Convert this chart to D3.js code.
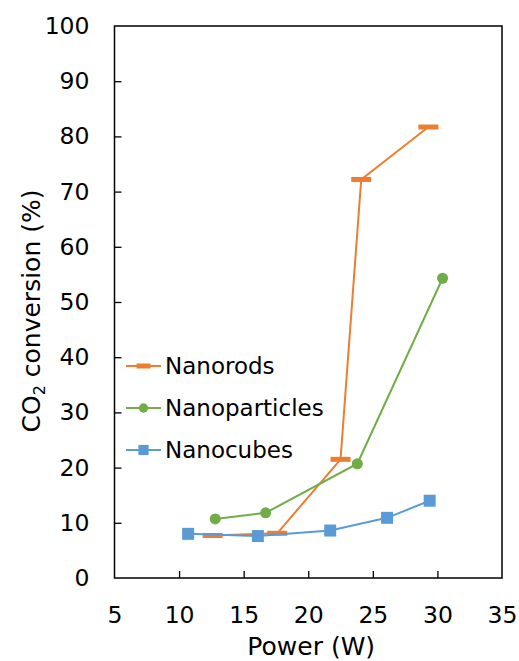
<!DOCTYPE html>
<html lang="en">
<head>
<meta charset="UTF-8">
<title>CO2 conversion vs power</title>
<script src="https://d3js.org/d3.v7.min.js"></script>
<style>
  body { margin: 0; background: #fff; }
  text { font-family: "DejaVu Sans", Verdana, sans-serif; fill: #000; }
</style>
</head>
<body>
<div id="chart"></div>
<script>
// data
const seriesNames = ["Nanorods", "Nanoparticles", "Nanocubes"];
const rodsPower = [12.6, 17.6, 22.5, 24.1, 29.3];
const rodsConv = [7.7, 8.1, 21.5, 72.2, 81.7];
const particlesPower = [12.8, 16.7, 23.8, 30.4];
const particlesConv = [10.7, 11.8, 20.7, 54.3];
const cubesPower = [10.7, 16.1, 21.7, 26.1, 29.4];
const cubesConv = [8.0, 7.6, 8.6, 10.9, 14.0];
const xTicks = [5, 10, 15, 20, 25, 30, 35];
const yTicks = [0, 10, 20, 30, 40, 50, 60, 70, 80, 90, 100];

const colors = { Nanorods: "#ED7D31", Nanoparticles: "#70AD47", Nanocubes: "#5B9BD5" };

const series = [
  { name: "Nanorods", marker: "dash", pts: rodsPower.map((p, i) => ({ x: p, y: rodsConv[i] })) },
  { name: "Nanoparticles", marker: "circle", pts: particlesPower.map((p, i) => ({ x: p, y: particlesConv[i] })) },
  { name: "Nanocubes", marker: "square", pts: cubesPower.map((p, i) => ({ x: p, y: cubesConv[i] })) }
];

const W = 519, H = 661;
const margin = { top: 26, right: 17, bottom: 83, left: 114.5 };
const width = W - margin.left - margin.right;
const height = H - margin.top - margin.bottom;

const svg = d3.select("#chart").append("svg")
  .attr("width", W).attr("height", H);
const g = svg.append("g")
  .attr("transform", "translate(" + margin.left + "," + margin.top + ")");

const x = d3.scaleLinear().domain([5, 35]).range([0, width]);
const y = d3.scaleLinear().domain([0, 100]).range([height, 0]);

// axes with inward ticks
const xAxis = g.append("g")
  .attr("transform", "translate(0," + height + ")")
  .call(d3.axisBottom(x).tickValues(xTicks).tickSizeInner(-7).tickSizeOuter(0).tickPadding(28));
const yAxis = g.append("g")
  .call(d3.axisLeft(y).tickValues(yTicks).tickSizeInner(-7).tickSizeOuter(0).tickPadding(25));
[xAxis, yAxis].forEach(a => {
  a.select(".domain").remove();
  a.selectAll("line").attr("stroke", "#000").attr("stroke-width", 1.3);
  a.selectAll("text").style("font-size", "23.5px").attr("fill", "#000");
});
// hide ticks at the frame edges
xAxis.selectAll(".tick").filter(d => d === 5 || d === 35).select("line").remove();
yAxis.selectAll(".tick").filter(d => d === 0 || d === 100).select("line").remove();

// frame
g.append("rect")
  .attr("width", width).attr("height", height)
  .attr("fill", "none").attr("stroke", "#000").attr("stroke-width", 1.5);

const line = d3.line().x(d => x(d.x)).y(d => y(d.y));

function drawMarker(sel, type, color, scale) {
  if (type === "circle") {
    sel.append("circle").attr("r", 5.5 * scale).attr("fill", color);
  } else if (type === "square") {
    const s = 12 * scale;
    sel.append("rect").attr("x", -s / 2).attr("y", -s / 2).attr("width", s).attr("height", s).attr("fill", color);
  } else {
    const w = 20 * scale, h = 5;
    sel.append("rect").attr("x", -w / 2).attr("y", -h / 2).attr("width", w).attr("height", h).attr("fill", color);
  }
}

series.forEach(s => {
  const c = colors[s.name];
  g.append("path").datum(s.pts)
    .attr("d", line).attr("fill", "none").attr("stroke", c).attr("stroke-width", 2);
  g.selectAll(".m-" + s.marker).data(s.pts).enter().append("g")
    .attr("transform", d => "translate(" + x(d.x) + "," + y(d.y) + ")")
    .each(function() { drawMarker(d3.select(this), s.marker, c, 1); });
});

// legend
const legend = svg.append("g").attr("transform", "translate(126,366)");
series.forEach((s, i) => {
  const c = colors[s.name];
  const row = legend.append("g").attr("transform", "translate(0," + (i * 42) + ")");
  row.append("line").attr("x1", 0).attr("x2", 35).attr("stroke", c).attr("stroke-width", 2);
  const m = row.append("g").attr("transform", "translate(17.5,0)");
  drawMarker(m, s.marker, c, s.marker === "dash" ? 0.7 : 0.85);
  row.append("text").attr("x", 39).attr("dy", "0.36em")
    .style("font-size", "23px").text(seriesNames[i]);
});

// axis titles
svg.append("text")
  .attr("x", margin.left + width / 2 + 3).attr("y", 655)
  .attr("text-anchor", "middle").style("font-size", "25px")
  .text("Power (W)");

const yt = svg.append("text")
  .attr("transform", "translate(40,311) rotate(-90)")
  .attr("text-anchor", "middle").style("font-size", "25px");
yt.append("tspan").text("CO");
yt.append("tspan").attr("dy", 5).style("font-size", "16px").text("2");
yt.append("tspan").attr("dy", -5).text(" conversion (%)");
</script>
</body>
</html>
